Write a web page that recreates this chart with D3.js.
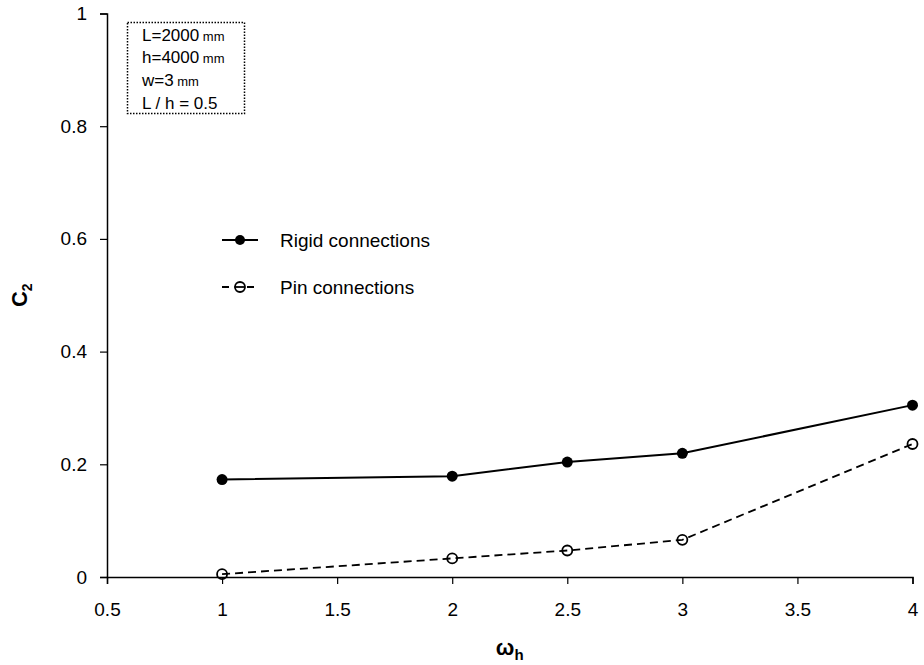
<!DOCTYPE html>
<html>
<head>
<meta charset="utf-8">
<script src="https://cdn.jsdelivr.net/npm/d3@7"></script>
<style>
  body { margin: 0; background: #fff; }
  svg { display: block; font-family: "Liberation Sans", Arial, sans-serif; }
</style>
</head>
<body>
<div id="chart"></div>
<script>
// ── Data ───────────────────────────────────────────────────────────────
const omega = [1, 2, 2.5, 3, 4];
const rigidC2 = [0.173, 0.179, 0.204, 0.2195, 0.305];
const pinC2   = [0.005, 0.033, 0.047, 0.066, 0.236];
const xTicks = [0.5, 1, 1.5, 2, 2.5, 3, 3.5, 4];
const yTicks = [0, 0.2, 0.4, 0.6, 0.8, 1];
const noteLines = [
    { main: "L=2000", unit: " mm" },
    { main: "h=4000", unit: " mm" },
    { main: "w=3", unit: " mm" },
    { main: "L / h = 0.5", unit: "" }
];

const W = 924, H = 665;
const margin = { top: 13.5, right: 11.5, bottom: 88, left: 107 };
const width  = W - margin.left - margin.right;
const height = H - margin.top - margin.bottom;

const svg = d3.select("#chart").append("svg")
    .attr("width", W)
    .attr("height", H);

const g = svg.append("g")
    .attr("transform", `translate(${margin.left},${margin.top})`);

// ── Scales ─────────────────────────────────────────────────────────────
const x = d3.scaleLinear().domain([0.5, 4]).range([0, width]);
const y = d3.scaleLinear().domain([0, 1]).range([height, 0]);

// ── Axes ───────────────────────────────────────────────────────────────
const xAxisG = g.append("g")
    .attr("transform", `translate(0,${height})`)
    .call(d3.axisBottom(x).tickValues(xTicks).tickFormat(d3.format("")).tickSize(7).tickPadding(19));

const yAxisG = g.append("g")
    .call(d3.axisLeft(y).tickValues(yTicks).tickFormat(d3.format("")).tickSize(7).tickPadding(13));

[xAxisG, yAxisG].forEach(a => {
    a.select(".domain").attr("stroke", "#000").attr("stroke-width", 1.5);
    a.selectAll(".tick line").attr("stroke", "#000").attr("stroke-width", 1.2);
    a.selectAll("text")
        .style("font-size", "19px")
        .style("font-family", "'Liberation Sans', Arial, sans-serif")
        .attr("fill", "#000");
});

// axis titles
const yTitle = svg.append("text")
    .attr("transform", `translate(27,${margin.top + height / 2}) rotate(-90)`)
    .attr("text-anchor", "middle")
    .style("font-weight", "bold")
    .style("font-size", "22px");
yTitle.append("tspan").text("C");
yTitle.append("tspan").attr("dy", 5).style("font-size", "14px").text("2");

const xTitle = svg.append("text")
    .attr("x", margin.left + width / 2)
    .attr("y", 655)
    .attr("text-anchor", "middle")
    .style("font-weight", "bold")
    .style("font-size", "22px");
xTitle.append("tspan").text("ω");
xTitle.append("tspan").attr("dy", 5).style("font-size", "15px").text("h");

// ── Series ─────────────────────────────────────────────────────────────
const rigid = omega.map((o, i) => ({ x: o, y: rigidC2[i] }));
const pin   = omega.map((o, i) => ({ x: o, y: pinC2[i] }));

const line = d3.line().x(d => x(d.x)).y(d => y(d.y));

g.append("path")
    .datum(pin)
    .attr("d", line)
    .attr("fill", "none")
    .attr("stroke", "#000")
    .attr("stroke-width", 1.8)
    .attr("stroke-dasharray", "8,5");

g.append("path")
    .datum(rigid)
    .attr("d", line)
    .attr("fill", "none")
    .attr("stroke", "#000")
    .attr("stroke-width", 2);

g.selectAll(".rigid-pt")
    .data(rigid)
    .join("circle")
    .attr("class", "rigid-pt")
    .attr("cx", d => x(d.x))
    .attr("cy", d => y(d.y))
    .attr("r", 5.5)
    .attr("fill", "#000");

g.selectAll(".pin-pt")
    .data(pin)
    .join("circle")
    .attr("class", "pin-pt")
    .attr("cx", d => x(d.x))
    .attr("cy", d => y(d.y))
    .attr("r", 5)
    .attr("fill", "none")
    .attr("stroke", "#000")
    .attr("stroke-width", 1.8);

// ── Legend ─────────────────────────────────────────────────────────────
const legend = svg.append("g");
const lg1 = legend.append("g").attr("transform", "translate(222,240)");
lg1.append("line").attr("x1", 0).attr("x2", 36).attr("stroke", "#000").attr("stroke-width", 2);
lg1.append("circle").attr("cx", 18).attr("r", 5).attr("fill", "#000");
lg1.append("text").attr("x", 58).attr("y", 6.5).style("font-size", "19px").text("Rigid connections");

const lg2 = legend.append("g").attr("transform", "translate(222,287)");
lg2.append("line").attr("x1", 0).attr("x2", 36).attr("stroke", "#000").attr("stroke-width", 1.8)
    .attr("stroke-dasharray", "7,5.5");
lg2.append("circle").attr("cx", 18).attr("r", 5).attr("fill", "#fff").attr("stroke", "#000").attr("stroke-width", 1.8);
lg2.append("line").attr("x1", 13).attr("x2", 23).attr("stroke", "#000").attr("stroke-width", 1.8);
lg2.append("text").attr("x", 58).attr("y", 6.5).style("font-size", "19px").text("Pin connections");

// ── Note box ───────────────────────────────────────────────────────────
svg.append("rect")
    .attr("x", 127.5).attr("y", 22.5)
    .attr("width", 117).attr("height", 91)
    .attr("fill", "#fff")
    .attr("stroke", "#000")
    .attr("stroke-width", 1.5)
    .attr("stroke-dasharray", "1.5,1.5");

noteLines.forEach((l, i) => {
    const t = svg.append("text")
        .attr("x", 142)
        .attr("y", 40.7 + i * 22.6)
        .style("font-size", "17px");
    t.append("tspan").text(l.main);
    if (l.unit) t.append("tspan").style("font-size", "13px").text(l.unit);
});
</script>
</body>
</html>
